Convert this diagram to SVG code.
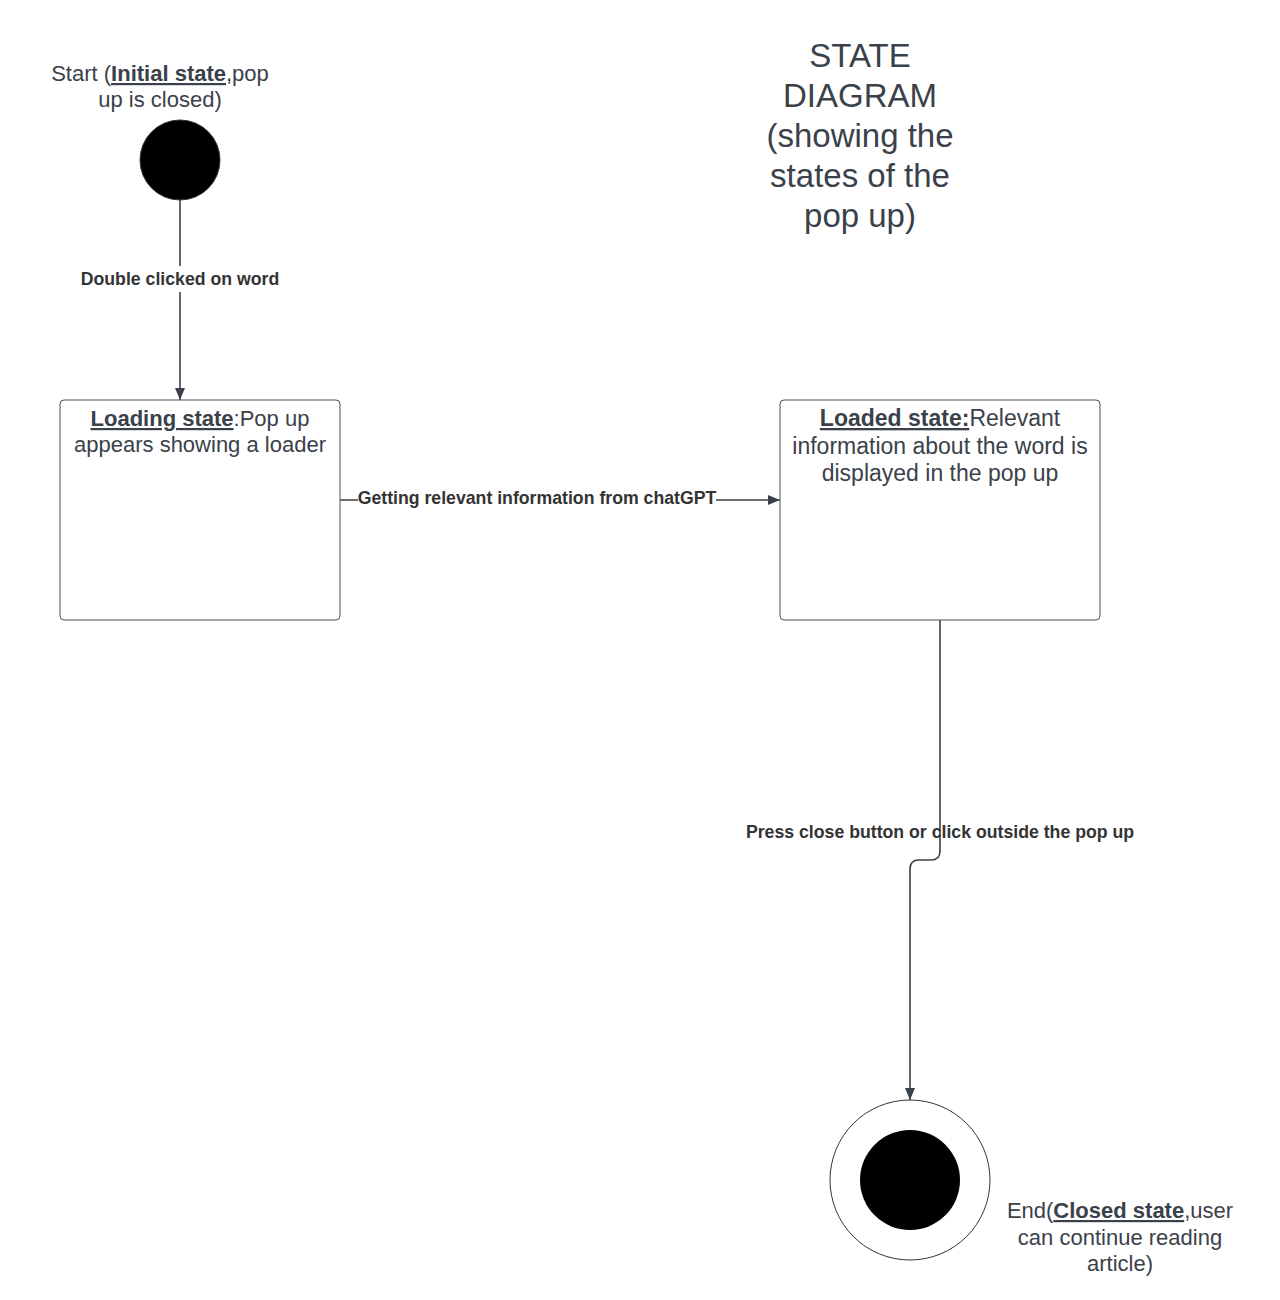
<svg xmlns="http://www.w3.org/2000/svg" width="1280" height="1300" viewBox="0 0 1280 1300">
  <style>
    text { font-family: "Liberation Sans", Arial, sans-serif; fill: #3a414a; }
    .lbl { font-size: 22px; text-anchor: middle; }
    .lbl2 { font-size: 23px; text-anchor: middle; }
    .title { font-size: 33px; text-anchor: middle; }
    .edge { font-size: 17.7px; font-weight: bold; text-anchor: middle; fill: #333333; }
    .b { font-weight: bold; text-decoration: underline; }
    .box { fill: #ffffff; stroke: #4a4f56; stroke-width: 1; }
    .wire { fill: none; stroke: #3a414a; stroke-width: 1.6; }
  </style>
  <defs>
    <marker id="arrow" viewBox="0 0 12 10" refX="12" refY="5" markerWidth="12" markerHeight="10" markerUnits="userSpaceOnUse" orient="auto">
      <path d="M0,0 L12,5 L0,10 Z" fill="#3a414a"/>
    </marker>
  </defs>
  <rect width="1280" height="1300" fill="#ffffff"/>

  <!-- title -->
  <g id="title">
    <text class="title" x="860" y="67">STATE</text>
    <text class="title" x="860" y="107">DIAGRAM</text>
    <text class="title" x="860" y="147">(showing the</text>
    <text class="title" x="860" y="187">states of the</text>
    <text class="title" x="860" y="227">pop up)</text>
  </g>

  <!-- connectors -->
  <g id="connectors">
    <path class="wire" d="M180,200 V400" marker-end="url(#arrow)"/>
    <rect x="78" y="266" width="204" height="26" fill="#ffffff"/>
    <text class="edge" x="180" y="285">Double clicked on word</text>

    <path class="wire" d="M340,500 H780" marker-end="url(#arrow)"/>
    <rect x="358" y="488" width="358" height="24" fill="#ffffff"/>
    <text class="edge" x="537" y="504">Getting relevant information from chatGPT</text>

    <path class="wire" d="M940,620 V851 Q940,860 931,860 H919 Q910,860 910,869 V1100" marker-end="url(#arrow)"/>
    <text class="edge" x="940" y="838">Press close button or click outside the pop up</text>
  </g>

  <!-- start node -->
  <g id="start">
    <text class="lbl" x="160" y="81">Start (<tspan class="b">Initial state</tspan>,pop</text>
    <text class="lbl" x="160" y="107">up is closed)</text>
    <circle cx="180" cy="160" r="40" fill="#000000" stroke="#333333" stroke-width="1"/>
  </g>

  <!-- loading state -->
  <g id="loading">
    <rect class="box" x="60" y="400" width="280" height="220" rx="4"/>
    <text class="lbl" x="200" y="426"><tspan class="b">Loading state</tspan>:Pop up</text>
    <text class="lbl" x="200" y="452">appears showing a loader</text>
  </g>

  <!-- loaded state -->
  <g id="loaded">
    <rect class="box" x="780" y="400" width="320" height="220" rx="4"/>
    <text class="lbl2" x="940" y="426"><tspan class="b">Loaded state:</tspan>Relevant</text>
    <text class="lbl2" x="940" y="454">information about the word is</text>
    <text class="lbl2" x="940" y="481">displayed in the pop up</text>
  </g>

  <!-- end node -->
  <g id="end">
    <circle cx="910" cy="1180" r="80" fill="#ffffff" stroke="#333333" stroke-width="1"/>
    <circle cx="910" cy="1180" r="50" fill="#000000"/>
    <text class="lbl" x="1120" y="1218">End(<tspan class="b">Closed state</tspan>,user</text>
    <text class="lbl" x="1120" y="1245">can continue reading</text>
    <text class="lbl" x="1120" y="1271">article)</text>
  </g>
</svg>
